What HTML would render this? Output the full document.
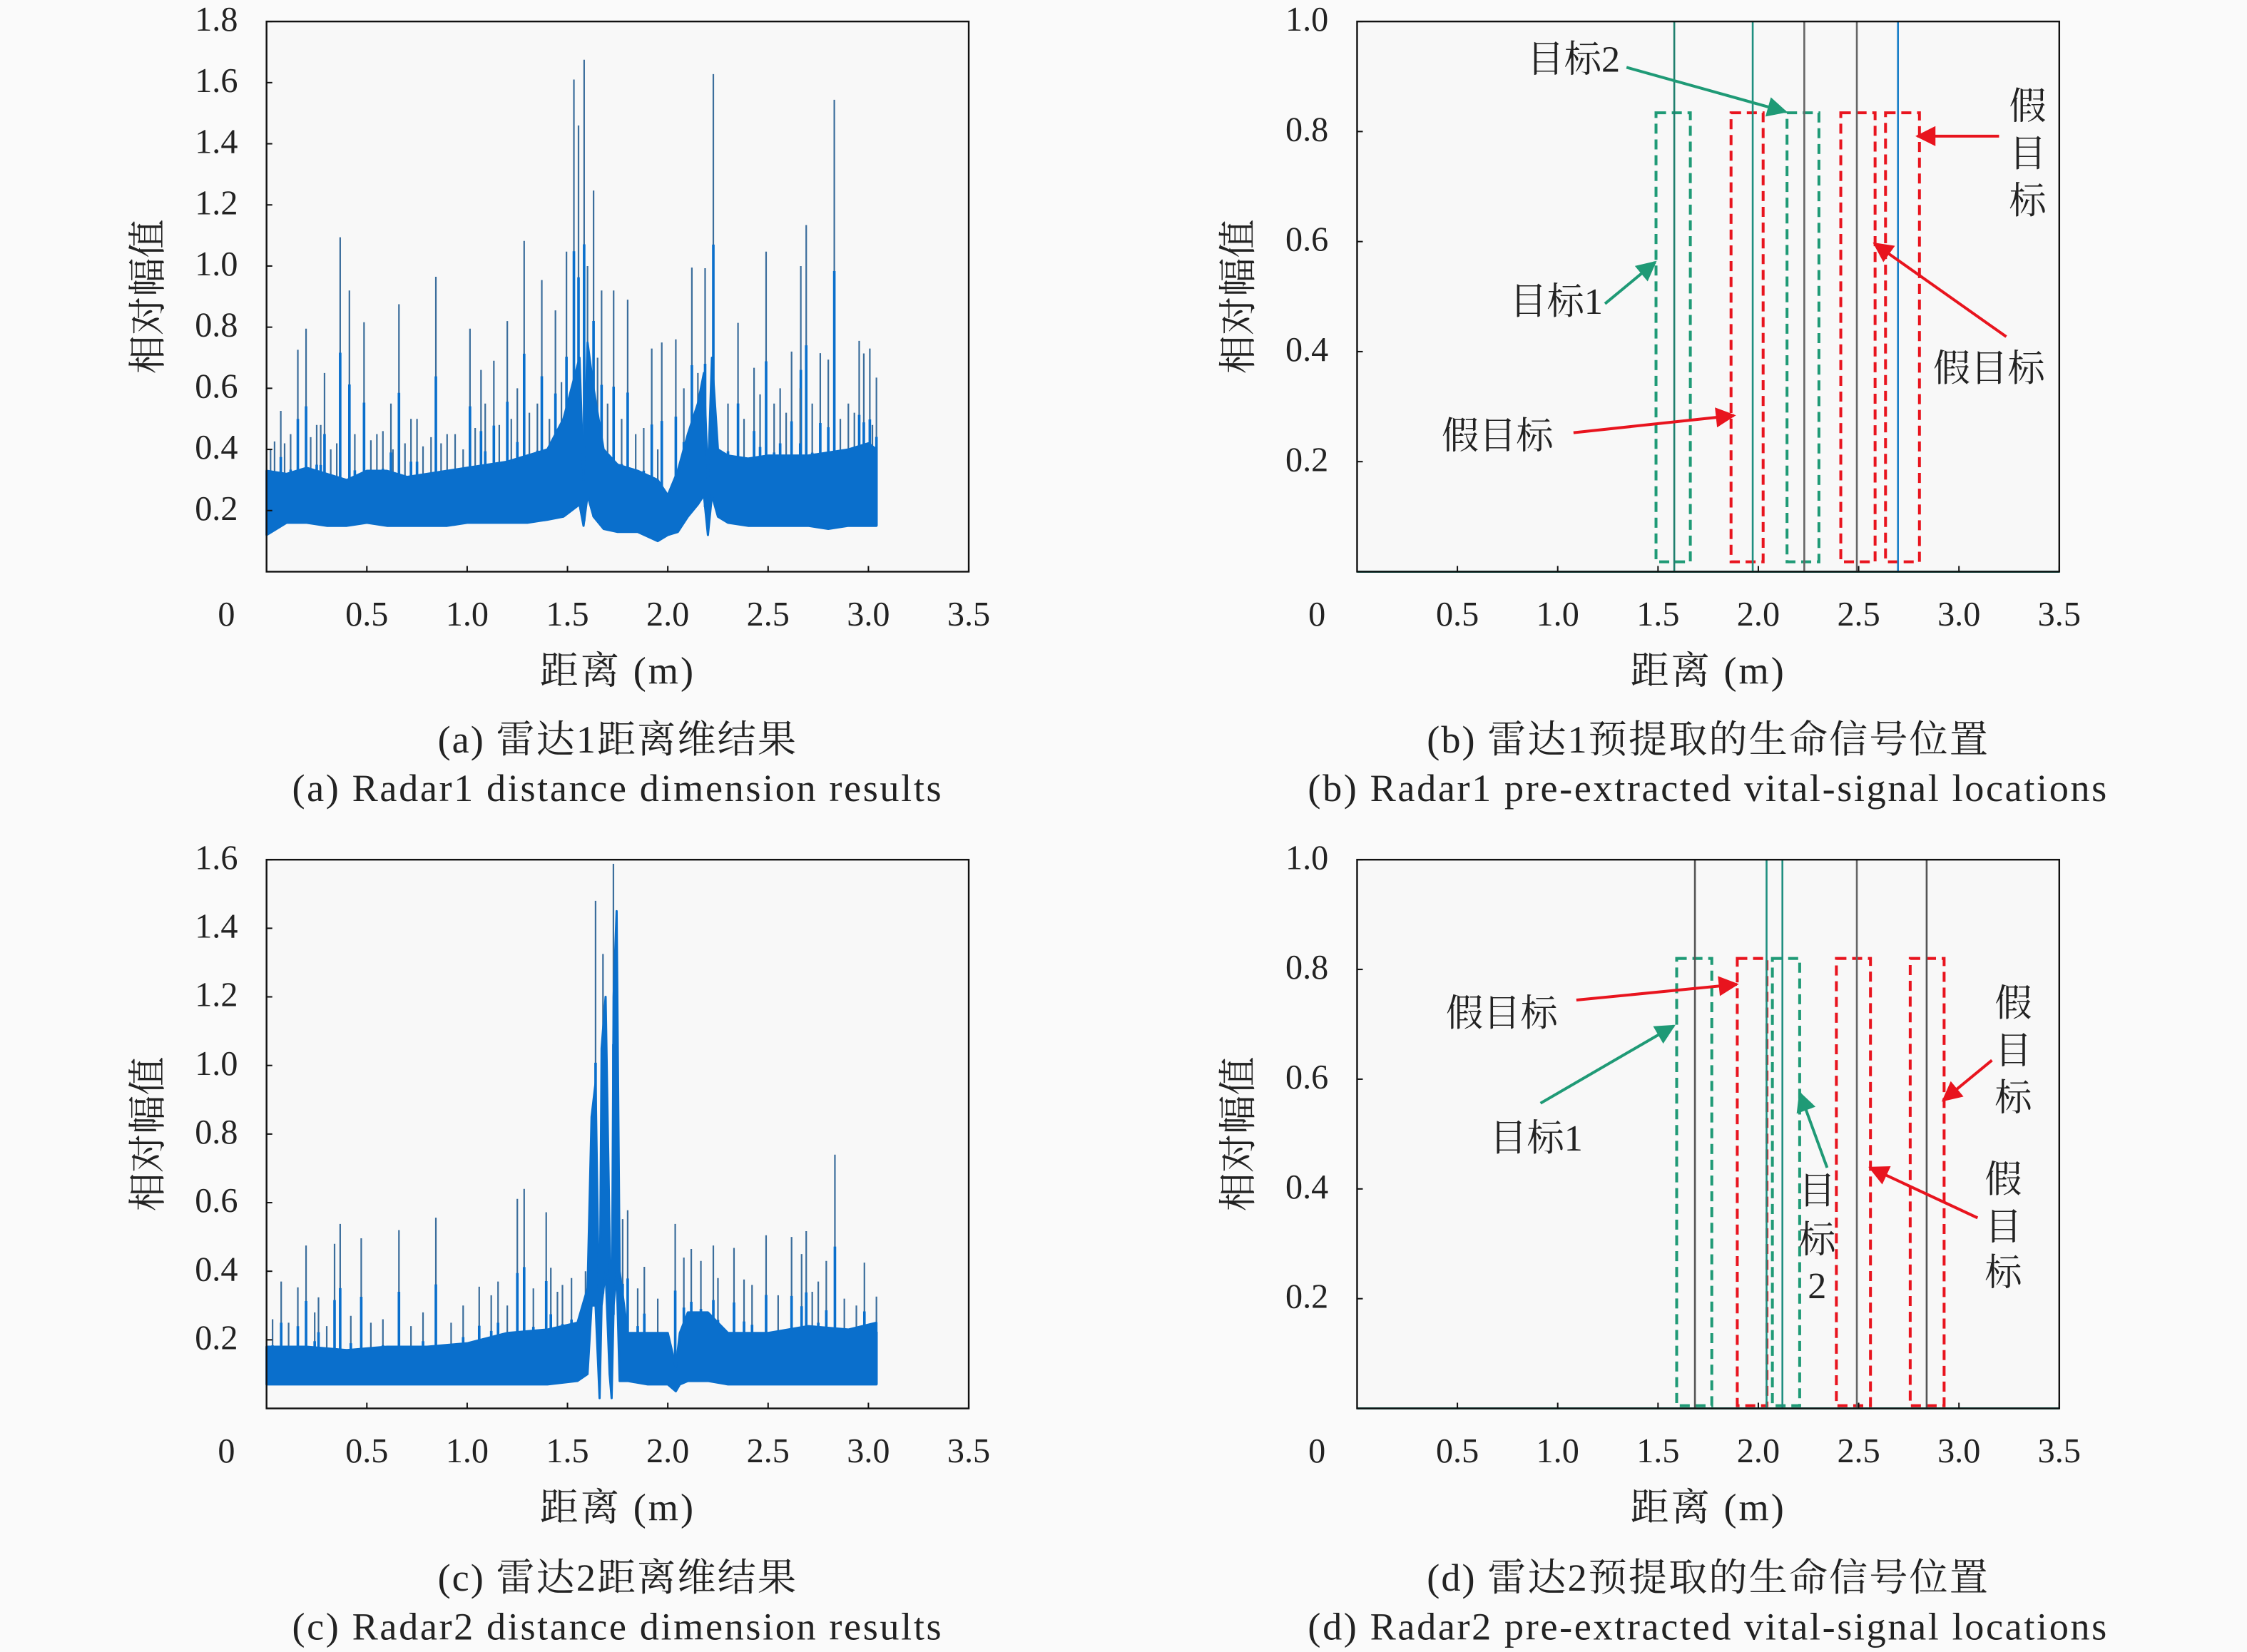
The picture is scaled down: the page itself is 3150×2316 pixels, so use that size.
<!DOCTYPE html>
<html><head><meta charset="utf-8">
<style>
html,body{margin:0;padding:0;background:#fafafa;}
svg{display:block;}
text{font-family:"Liberation Serif","Noto Serif CJK SC",serif;fill:#222;}
</style></head>
<body>
<svg id="fig" xmlns="http://www.w3.org/2000/svg" width="3150" height="2316" viewBox="0 0 1568 1153" preserveAspectRatio="none">
<rect x="0" y="0" width="1568" height="1153" fill="#fafafa"/>
</svg>
<script>
// ---- Panel (a) data ----
const aEnvX=[0,0.1,0.2,0.3,0.4,0.5,0.6,0.7,0.8,0.9,1.0,1.1,1.2,1.3,1.4,1.48,1.52,1.56,1.58,1.60,1.63,1.68,1.75,1.85,1.95,2.0,2.05,2.1,2.15,2.18,2.2,2.22,2.25,2.3,2.4,2.5,2.6,2.7,2.8,2.9,3.0,3.04];
const aEnvHi=[0.33,0.32,0.34,0.32,0.30,0.33,0.33,0.31,0.32,0.33,0.34,0.35,0.36,0.38,0.40,0.50,0.60,0.70,0.30,0.75,0.60,0.40,0.35,0.33,0.30,0.25,0.33,0.45,0.55,0.65,0.30,0.70,0.40,0.38,0.37,0.38,0.38,0.38,0.39,0.40,0.42,0.40];
const aEnvLo=[0.12,0.16,0.16,0.15,0.15,0.16,0.15,0.15,0.15,0.15,0.16,0.16,0.16,0.16,0.17,0.18,0.20,0.22,0.15,0.25,0.18,0.14,0.13,0.13,0.10,0.12,0.13,0.18,0.22,0.25,0.12,0.25,0.18,0.16,0.15,0.15,0.15,0.15,0.14,0.15,0.15,0.15];
const aSpikeX=[0.367,0.197,0.156,0.413,0.486,0.66,0.844,0.289,1.014,1.069,1.133,1.2,1.284,1.372,1.44,1.495,1.532,1.583,1.63,1.555,1.67,1.73,1.80,1.92,1.97,2.04,2.12,2.186,2.227,2.35,2.49,2.43,2.617,2.663,2.69,2.76,2.80,2.83,2.954,3.007,2.977,3.04,0.071,0.04,0.62,0.72,0.9,1.25,1.6,2.56,2.9,0.27,0.55,
 0.02,0.09,0.12,0.22,0.25,0.32,0.35,0.44,0.52,0.58,0.63,0.69,0.75,0.78,0.82,0.87,0.94,0.98,1.04,1.09,1.16,1.22,1.31,1.35,1.41,1.47,1.65,1.70,1.77,1.84,1.88,1.95,2.08,2.15,2.30,2.38,2.46,2.53,2.59,2.66,2.72,2.86,2.93,3.02];
const aSpikeY=[1.094,0.795,0.726,0.92,0.816,0.875,0.965,0.65,0.795,0.66,0.69,0.82,1.082,0.954,0.855,1.047,1.61,1.675,1.247,1.46,0.92,0.92,0.89,0.73,0.75,0.76,0.995,0.993,1.628,0.814,1.047,0.667,0.72,1.0,1.134,0.715,0.694,1.544,0.755,0.73,0.714,0.635,0.526,0.426,0.55,0.5,0.45,0.6,1.0,0.6,0.55,0.48,0.45,
 0.40,0.42,0.45,0.44,0.48,0.40,0.42,0.45,0.43,0.46,0.40,0.42,0.50,0.41,0.44,0.42,0.45,0.40,0.47,0.55,0.48,0.50,0.52,0.55,0.50,0.62,0.70,0.55,0.50,0.45,0.47,0.40,0.60,0.65,0.55,0.50,0.58,0.55,0.52,0.60,0.55,0.50,0.52,0.48];
// ---- Panel (c) data ----
const cEnvX=[0,0.2,0.4,0.6,0.8,1.0,1.2,1.4,1.55,1.6,1.62,1.64,1.66,1.67,1.69,1.71,1.72,1.73,1.745,1.76,1.8,1.9,2.0,2.04,2.06,2.1,2.2,2.3,2.5,2.7,2.9,3.04];
const cEnvHi=[0.18,0.18,0.17,0.18,0.18,0.19,0.22,0.23,0.25,0.35,0.85,0.95,0.20,1.05,1.2,0.5,0.15,1.2,1.45,0.4,0.22,0.22,0.22,0.12,0.22,0.28,0.28,0.22,0.22,0.24,0.23,0.25];
const cEnvLo=[0.07,0.07,0.07,0.07,0.07,0.07,0.07,0.07,0.08,0.1,0.3,0.3,0.03,0.3,0.4,0.1,0.03,0.3,0.4,0.08,0.08,0.07,0.07,0.05,0.07,0.08,0.08,0.07,0.07,0.07,0.07,0.07];
const cSpikeX=[1.64,1.729,1.677,1.25,1.284,1.394,1.80,1.775,2.833,2.037,0.844,0.66,0.367,0.472,0.339,0.197,0.073,0.156,0.259,2.49,2.617,2.69,2.98,3.04,2.117,2.227,2.33,2.38,1.883,2.08,2.165,2.667,2.75,2.79,1.154,1.06,1.475,1.59,1.417,
 0.03,0.11,0.24,0.30,0.42,0.52,0.58,0.72,0.78,0.92,0.98,1.12,1.20,1.33,1.45,1.52,1.85,1.95,2.25,2.42,2.55,2.72,2.88,2.94];
const cSpikeY=[1.48,1.588,1.325,0.611,0.64,0.572,0.578,0.552,0.74,0.538,0.556,0.52,0.538,0.496,0.48,0.475,0.37,0.353,0.324,0.505,0.50,0.517,0.425,0.326,0.465,0.475,0.468,0.376,0.413,0.44,0.43,0.45,0.37,0.43,0.37,0.355,0.36,0.40,0.41,
 0.26,0.25,0.28,0.24,0.27,0.25,0.26,0.24,0.28,0.25,0.30,0.33,0.30,0.35,0.34,0.38,0.35,0.32,0.38,0.36,0.33,0.34,0.32,0.30];
// ---- Panel (b) data ----
const bLineX=[1.581,1.972,2.229,2.491,2.696];
const bLineColor=['#1f7f6e','#1f8f80','#666','#666','#1a7fc8'];
const bBoxL=[1.490,1.864,2.143,2.411,2.634];
const bBoxR=[1.661,2.024,2.302,2.582,2.803];
const bBoxKind=['g','r','g','r','r'];
const bBoxTop=0.834, bBoxBot=0.018;
// ---- Panel (d) data ----
const dLineX=[1.684,2.041,2.120,2.491,2.839];
const dLineColor=['#555','#1f8f80','#1f8f80','#666','#555'];
const dBoxL=[1.593,1.895,2.070,2.389,2.757];
const dBoxR=[1.768,2.043,2.206,2.559,2.926];
const dBoxKind=['g','r','g','r','r'];
const dBoxTop=0.82, dBoxBot=0.005;
const xTicks=[0.5,1.0,1.5,2.0,2.5,3.0,3.5];

const NS='http://www.w3.org/2000/svg';
const svg=document.getElementById('fig');
function mk(tag,attrs,parent){const e=document.createElementNS(NS,tag);for(const k in attrs)e.setAttribute(k,attrs[k]);(parent||svg).appendChild(e);return e;}
function txt(s,x,y,size,color,anchor,parent){const t=mk('text',{x:x,y:y,'font-size':size,'text-anchor':anchor||'middle','dominant-baseline':'middle',fill:color||'#222'},parent);t.textContent=s;return t;}
function interp(xs,ys,x){if(x<=xs[0])return ys[0];for(let i=1;i<xs.length;i++){if(x<=xs[i]){const t=(x-xs[i-1])/(xs[i]-xs[i-1]);return ys[i-1]+t*(ys[i]-ys[i-1]);}}return ys[ys.length-1];}

function panel(id,L,R,T,B,ymax){
  const g=mk('g',{});
  
  
  const sx=v=>L+(v/3.5)*(R-L);
  const sy=v=>B-(v/ymax)*(B-T);
  mk('rect',{x:L,y:T,width:R-L,height:B-T,fill:'#f8f8f8'},g);
  return {g,sx,sy,L,R,T,B,ymax,id};
}
function axes(p,ylabelTicks){
  const {g,sx,sy,L,R,T,B}=p;
  const frame=mk('rect',{x:L,y:T,width:R-L,height:B-T,fill:'none',stroke:'#111','stroke-width':1.2},g);
  
  
  xTicks.forEach(v=>{
    mk('line',{x1:sx(v),x2:sx(v),y1:B,y2:B-4,stroke:'#111','stroke-width':1},g);
    const t=txt(v.toFixed(1),sx(v),B+32,24,'#222','middle',g);
    
    
  });
  const z=txt('0',L-28,B+32,24,'#222','middle',g);
  
  
  ylabelTicks.forEach(v=>{
    mk('line',{x1:L,x2:L+4,y1:sy(v),y2:sy(v),stroke:'#111','stroke-width':1},g);
    const t=txt(v.toFixed(1),L-20,sy(v)+1,24,'#222','end',g);
    
    
  });
  const yt=txt('相对幅值',0,0,27,'#222','middle',g);
  yt.setAttribute('transform','translate('+(L-80)+','+((T+B)/2)+') rotate(-90)');
  
  
  const xt=txt('距离 (m)',(L+R)/2,B+72,27,'#222','middle',g);
  xt.setAttribute('letter-spacing','1.5');
  
  
}
function noise(p,ex,hi,lo,spx,spy){
  const {g,sx,sy}=p;
  for(let i=0;i<spx.length;i++){
    const base=interp(ex,lo,spx[i]);
    const ln=mk('line',{x1:sx(spx[i]),x2:sx(spx[i]),y1:sy(base),y2:sy(spy[i]),stroke:'#3c6e9c','stroke-width':1.1},g);
    
    
    const lb=mk('line',{x1:sx(spx[i]),x2:sx(spx[i]),y1:sy(base),y2:sy(base+(spy[i]-base)*0.6),stroke:'#0a6fcc','stroke-width':1.8},g);
    
    
  }
  let d='M'+sx(ex[0])+','+sy(hi[0]);
  for(let i=1;i<ex.length;i++)d+=' L'+sx(ex[i])+','+sy(hi[i]);
  for(let i=ex.length-1;i>=0;i--)d+=' L'+sx(ex[i])+','+sy(lo[i]);
  const band=mk('path',{d:d+'Z',fill:'#0a6fcc',stroke:'#0a6fcc','stroke-width':1.5,'stroke-linejoin':'round'},g);
  
  
}
function boxes(p,lx,lc,bl,br,bk,top,bot){
  const {g,sx,sy,L,R,T,B}=p;
  const base=mk('line',{x1:L,x2:R,y1:B,y2:B,stroke:'#1f8f80','stroke-width':1.5},g);
  
  
  for(let i=0;i<bl.length;i++){
    const col=bk[i]==='g'?'#1f9a76':'#e8141e';
    const r=mk('rect',{x:sx(bl[i]),y:sy(top),width:sx(br[i])-sx(bl[i]),height:sy(bot)-sy(top),fill:'none',stroke:col,'stroke-width':2,'stroke-dasharray':'7,4'},g);
    
    
  }
  for(let i=0;i<lx.length;i++){
    const l=mk('line',{x1:sx(lx[i]),x2:sx(lx[i]),y1:T,y2:B,stroke:lc[i],'stroke-width':1.3},g);
    
    
  }
}
function caption(cx,y,s1,s2,nm){
  const a=txt(s1,cx,y,27,'#222','middle');
  a.setAttribute('letter-spacing','1');
  
  
  const b=txt(s2,cx,y+34,27,'#222','middle');
  b.setAttribute('letter-spacing','1.3');
  
  
}
const defs=mk('defs',{});
[['ag','#1f9a76'],['ar','#e8141e']].forEach(([id,c])=>{
  const m=mk('marker',{id:id,viewBox:'0 0 10 10',refX:'9',refY:'5',markerWidth:'18',markerHeight:'14',orient:'auto',markerUnits:'userSpaceOnUse'},defs);
  mk('path',{d:'M0,0 L10,5 L0,10 Z',fill:c},m);
});
function arrow(x1,y1,x2,y2,kind){
  const c=kind==='g'?'#1f9a76':'#e8141e';
  const l=mk('line',{x1:x1,y1:y1,x2:x2,y2:y2,stroke:c,'stroke-width':2,'marker-end':'url(#a'+kind+')'});
  
  
}
function label(s,x,y,kind){
  const t=txt(s,x,y,26,kind==='g'?'#1f9a76':'#e8141e','middle');
  
  
}
function vlabel(chars,x,ys,kind){chars.forEach((c,i)=>label(c,x,ys[i],kind));}

const pa=panel('a',186,676,15,399,1.8);
noise(pa,aEnvX,aEnvHi,aEnvLo,aSpikeX,aSpikeY);
axes(pa,[0.2,0.4,0.6,0.8,1.0,1.2,1.4,1.6,1.8]);
caption(431,519,'(a) 雷达1距离维结果','(a) Radar1 distance dimension results','panel-a');
const pb=panel('b',947,1437,15,399,1.0);
boxes(pb,bLineX,bLineColor,bBoxL,bBoxR,bBoxKind,bBoxTop,bBoxBot);
axes(pb,[0.2,0.4,0.6,0.8,1.0]);
caption(1192,519,'(b) 雷达1预提取的生命信号位置','(b) Radar1 pre-extracted vital-signal locations','panel-b');
label('目标2',1098,44,'g'); arrow(1135,47,1246,78,'g');
label('目标1',1086,213,'g'); arrow(1120,212,1155,183,'g');
label('假目标',1045,307,'r'); arrow(1098,302,1210,290,'r');
label('假目标',1388,260,'r'); arrow(1400,235,1308,170,'r');
vlabel(['假','目','标'],1415,[77,110,143],'r'); arrow(1395,95,1338,95,'r');
const pc=panel('c',186,676,600,983,1.6);
noise(pc,cEnvX,cEnvHi,cEnvLo,cSpikeX,cSpikeY);
axes(pc,[0.2,0.4,0.6,0.8,1.0,1.2,1.4,1.6]);
caption(431,1104,'(c) 雷达2距离维结果','(c) Radar2 distance dimension results','panel-c');
const pd=panel('d',947,1437,600,983,1.0);
boxes(pd,dLineX,dLineColor,dBoxL,dBoxR,dBoxKind,dBoxTop,dBoxBot);
axes(pd,[0.2,0.4,0.6,0.8,1.0]);
caption(1192,1104,'(d) 雷达2预提取的生命信号位置','(d) Radar2 pre-extracted vital-signal locations','panel-d');
label('假目标',1048,710,'r'); arrow(1100,698,1212,687,'r');
label('目标1',1072,797,'g'); arrow(1075,770,1168,716,'g');
vlabel(['目','标','2'],1268,[834,868,900],'g'); arrow(1275,815,1256,763,'g');
vlabel(['假','目','标'],1405,[703,736,769],'r'); arrow(1390,740,1356,768,'r');
vlabel(['假','目','标'],1398,[826,859,891],'r'); arrow(1380,850,1305,815,'r');
</script>
</body></html>
